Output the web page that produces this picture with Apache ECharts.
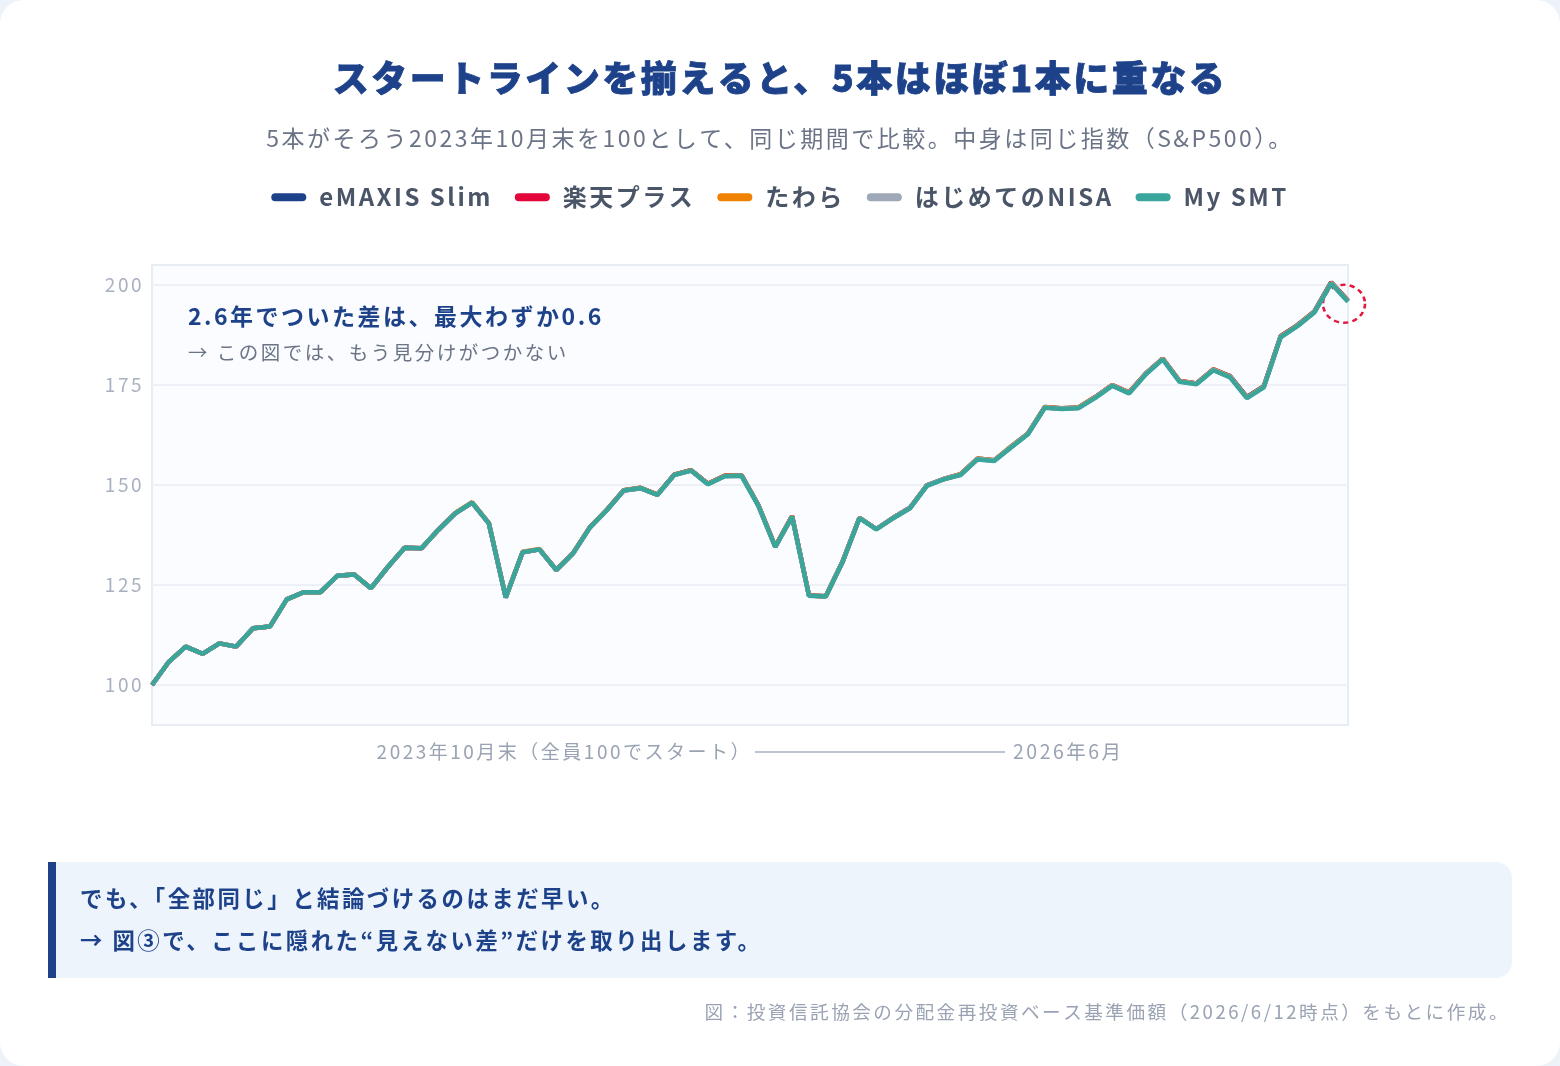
<!DOCTYPE html>
<html lang="ja">
<head>
<meta charset="utf-8">
<title>スタートラインを揃えると、5本はほぼ1本に重なる</title>
<script src="https://cdn.jsdelivr.net/npm/echarts@6/dist/echarts.min.js"></script>
<style>
    html, body { margin: 0; padding: 0; background: #eef3fa; }
    #main { width: 1560px; height: 1066px; background: #ffffff; border-radius: 24px; overflow: hidden; }
</style>
</head>
<body>
<div id="main"></div>
<script>
// 2023年10月末=100 に揃えた基準価額（約2週ごと、最後は2026/6/12）
var seriesNames = ['eMAXIS Slim', '楽天プラス', 'たわら', 'はじめてのNISA', 'My SMT'];
var seriesColors = ['#1d428a', '#e4063a', '#ef8200', '#9ea8b8', '#3aa59b'];

var emaxis = [
    100.0, 105.8, 109.6, 107.8, 110.4, 109.6, 114.2, 114.6, 121.4, 123.2, 123.2, 127.3,
    127.6, 124.2, 129.5, 134.3, 134.2, 138.8, 142.9, 145.6, 140.4, 121.9, 133.2, 133.9,
    128.8, 133.0, 139.5, 143.8, 148.7, 149.3, 147.6, 152.6, 153.7, 150.3, 152.3, 152.4,
    144.9, 134.6, 142.2, 122.4, 122.2, 130.9, 141.8, 139.0, 141.8, 144.3, 149.9, 151.5,
    152.7, 156.6, 156.2, 159.6, 162.9, 169.5, 169.2, 169.4, 172.0, 175.0, 173.1, 177.9,
    181.6, 176.0, 175.4, 178.9, 177.2, 172.0, 174.7, 187.2, 190.0, 193.4, 200.7, 196.1
];
var rakuten = [
    100.0, 105.8, 109.6, 107.8, 110.4, 109.6, 114.2, 114.6, 121.4, 123.2, 123.2, 127.3,
    127.6, 124.2, 129.5, 134.3, 134.2, 138.8, 142.9, 145.6, 140.4, 121.9, 133.2, 133.9,
    128.7, 132.9, 139.4, 143.7, 148.6, 149.2, 147.6, 152.6, 153.7, 150.3, 152.3, 152.4,
    144.9, 134.6, 142.2, 122.4, 122.2, 130.9, 141.8, 139.0, 141.8, 144.3, 149.9, 151.5,
    152.6, 156.5, 156.1, 159.5, 162.8, 169.4, 169.1, 169.3, 172.0, 175.0, 173.1, 177.9,
    181.6, 176.0, 175.4, 178.9, 177.1, 171.9, 174.6, 187.1, 189.9, 193.3, 200.6, 196.0
];
var tawara = [
    100.0, 105.8, 109.6, 107.8, 110.4, 109.6, 114.2, 114.6, 121.4, 123.2, 123.2, 127.3,
    127.6, 124.2, 129.5, 134.3, 134.2, 138.8, 143.0, 145.7, 140.5, 122.0, 133.3, 134.0,
    128.8, 133.0, 139.5, 143.8, 148.7, 149.3, 147.6, 152.6, 153.7, 150.3, 152.3, 152.4,
    144.9, 134.6, 142.2, 122.4, 122.2, 130.9, 141.8, 139.0, 141.8, 144.3, 149.9, 151.5,
    152.7, 156.6, 156.2, 159.6, 162.9, 169.5, 169.2, 169.4, 172.0, 175.0, 173.1, 177.9,
    181.6, 176.0, 175.4, 178.9, 177.1, 171.9, 174.6, 187.1, 189.9, 193.3, 200.6, 196.0
];
var hajimete = [
    100.0, 105.8, 109.6, 107.8, 110.4, 109.6, 114.2, 114.6, 121.4, 123.2, 123.2, 127.3,
    127.6, 124.2, 129.5, 134.3, 134.2, 138.8, 142.9, 145.6, 140.4, 121.9, 133.2, 133.9,
    128.7, 132.9, 139.4, 143.7, 148.6, 149.2, 147.5, 152.5, 153.6, 150.2, 152.2, 152.3,
    144.8, 134.5, 142.1, 122.3, 122.2, 130.9, 141.8, 139.0, 141.8, 144.3, 149.9, 151.5,
    152.6, 156.5, 156.1, 159.5, 162.8, 169.4, 169.1, 169.3, 171.9, 174.9, 173.0, 177.8,
    181.5, 175.9, 175.3, 178.8, 177.0, 171.8, 174.5, 187.0, 189.8, 193.2, 200.5, 195.9
];
var mySmt = [
    100.0, 105.8, 109.6, 107.8, 110.4, 109.6, 114.2, 114.6, 121.4, 123.2, 123.2, 127.3,
    127.6, 124.2, 129.5, 134.3, 134.2, 138.8, 142.9, 145.6, 140.4, 121.9, 133.2, 133.9,
    128.7, 132.9, 139.4, 143.7, 148.6, 149.2, 147.5, 152.5, 153.6, 150.2, 152.2, 152.3,
    144.8, 134.5, 142.1, 122.3, 122.1, 130.8, 141.7, 138.9, 141.7, 144.2, 149.8, 151.4,
    152.5, 156.4, 156.0, 159.4, 162.7, 169.3, 169.0, 169.2, 171.8, 174.8, 172.9, 177.7,
    181.4, 175.8, 175.2, 178.7, 176.9, 171.7, 174.4, 186.9, 189.7, 193.1, 200.4, 195.8
];
var yTicks = [100, 125, 150, 175, 200];

// x軸カテゴリ（ラベルは非表示。点の番号だけ持つ）
var cats = [];
for (var i = 0; i < mySmt.length; i++) {
    cats.push(String(i));
}

var FONT = '"Noto Sans CJK JP", "Noto Sans", sans-serif';
var allData = [emaxis, rakuten, tawara, hajimete, mySmt];

// 元図は字間が少し広い。描画と計測の両方に同じ字間をつける
var LETTER_SPACING = '2.5px';
var ctxProto = CanvasRenderingContext2D.prototype;
var origFillText = ctxProto.fillText;
var origStrokeText = ctxProto.strokeText;
var origMeasureText = ctxProto.measureText;
ctxProto.fillText = function () {
    this.letterSpacing = LETTER_SPACING;
    return origFillText.apply(this, arguments);
};
ctxProto.strokeText = function () {
    this.letterSpacing = LETTER_SPACING;
    return origStrokeText.apply(this, arguments);
};
ctxProto.measureText = function () {
    this.letterSpacing = LETTER_SPACING;
    return origMeasureText.apply(this, arguments);
};

var myChart = echarts.init(document.getElementById('main'));

var seriesList = [];
for (var k = 0; k < seriesNames.length; k++) {
    var s = {
        name: seriesNames[k],
        type: 'line',
        data: allData[k],
        symbol: 'none',
        smooth: false,
        lineStyle: { width: 4.5, color: seriesColors[k] },
        itemStyle: { color: seriesColors[k] },
        z: 2 + k
    };
    if (k === seriesNames.length - 1) {
        // 最後の点を赤い点線で囲む
        s.markPoint = {
            symbol: 'circle',
            symbolSize: [42, 38],
            symbolOffset: [-4, 2],
            silent: true,
            label: { show: false },
            itemStyle: {
                color: 'rgba(0,0,0,0)',
                borderColor: '#e5173f',
                borderWidth: 2.5,
                borderType: [5, 4]
            },
            data: [{ coord: [cats[cats.length - 1], mySmt[mySmt.length - 1]] }]
        };
    }
    seriesList.push(s);
}

option = {
    animation: false,
    textStyle: { fontFamily: FONT },
    title: {
        text: 'スタートラインを揃えると、5本はほぼ1本に重なる',
        subtext: '5本がそろう2023年10月末を100として、同じ期間で比較。中身は同じ指数（S&P500）。',
        left: 'center',
        top: 54,
        itemGap: 27,
        textStyle: {
            fontFamily: FONT, fontSize: 36, fontWeight: 900, color: '#1d428a',
            textBorderColor: '#1d428a', textBorderWidth: 0.8
        },
        subtextStyle: { fontFamily: FONT, fontSize: 23, color: '#6b7486' }
    },
    legend: {
        top: 179,
        left: 'center',
        itemWidth: 35,
        itemHeight: 8,
        itemGap: 22,
        icon: 'path://M4,0 H31 A4,4 0 0 1 31,8 H4 A4,4 0 0 1 4,0 Z',
        textStyle: {
            fontFamily: FONT, fontSize: 24, fontWeight: 'bold', color: '#4b5568',
            padding: [0, 0, 0, 8]
        },
        data: seriesNames
    },
    grid: {
        left: 152,
        right: 212,
        top: 265,
        bottom: 341,
        show: true,
        backgroundColor: '#fafcff',
        borderColor: '#e8ecf3',
        borderWidth: 2
    },
    xAxis: {
        type: 'category',
        data: cats,
        boundaryGap: false,
        axisLine: { show: false },
        axisTick: { show: false },
        axisLabel: { show: false },
        splitLine: { show: false }
    },
    yAxis: {
        type: 'value',
        min: 90,
        max: 205,
        axisLine: { show: false },
        axisTick: { show: false, customValues: yTicks },
        axisLabel: {
            customValues: yTicks,
            color: '#a9b1c1',
            fontSize: 19,
            fontFamily: FONT,
            margin: 8
        },
        splitLine: { show: true, lineStyle: { color: '#edf0f6', width: 2 } }
    },
    graphic: [
        // 注記
        {
            type: 'text', left: 188, top: 304, z: 10,
            style: { text: '2.6年でついた差は、最大わずか0.6', fill: '#1d428a', font: 'bold 23px ' + FONT }
        },
        {
            type: 'text', left: 188, top: 342, z: 10,
            style: { text: '→ この図では、もう見分けがつかない', fill: '#6b7486', font: '19.5px ' + FONT }
        },
        // x軸の説明
        {
            type: 'text', x: 752, y: 752, z: 10,
            style: { text: '2023年10月末（全員100でスタート）', fill: '#9aa3b3', font: '19px ' + FONT, align: 'right', verticalAlign: 'middle' }
        },
        {
            type: 'line', z: 10,
            shape: { x1: 755, y1: 752, x2: 1005, y2: 752 },
            style: { stroke: '#a9b0be', lineWidth: 1.5 }
        },
        {
            type: 'text', x: 1013, y: 752, z: 10,
            style: { text: '2026年6月', fill: '#9aa3b3', font: '19.5px ' + FONT, align: 'left', verticalAlign: 'middle' }
        },
        // 下のまとめ
        {
            type: 'rect', z: 1,
            shape: { x: 48, y: 862, width: 1464, height: 116, r: [0, 16, 16, 0] },
            style: { fill: '#edf4fc' }
        },
        {
            type: 'rect', z: 2,
            shape: { x: 48, y: 862, width: 8, height: 116 },
            style: { fill: '#1d428a' }
        },
        {
            type: 'text', x: 80, y: 898, z: 3,
            style: { text: 'でも、「全部同じ」と結論づけるのはまだ早い。', fill: '#1d428a', font: 'bold 22.4px ' + FONT, verticalAlign: 'middle' }
        },
        {
            type: 'text', x: 80, y: 940, z: 3,
            style: { text: '→ 図③で、ここに隠れた“見えない差”だけを取り出します。', fill: '#1d428a', font: 'bold 22.4px ' + FONT, verticalAlign: 'middle' }
        },
        // 出典
        {
            type: 'text', x: 1510, y: 1012, z: 3,
            style: { text: '図：投資信託協会の分配金再投資ベース基準価額（2026/6/12時点）をもとに作成。', fill: '#9aa3b3', font: '18.6px ' + FONT, align: 'right', verticalAlign: 'middle' }
        }
    ],
    series: seriesList
};

myChart.setOption(option);
</script>
</body>
</html>
